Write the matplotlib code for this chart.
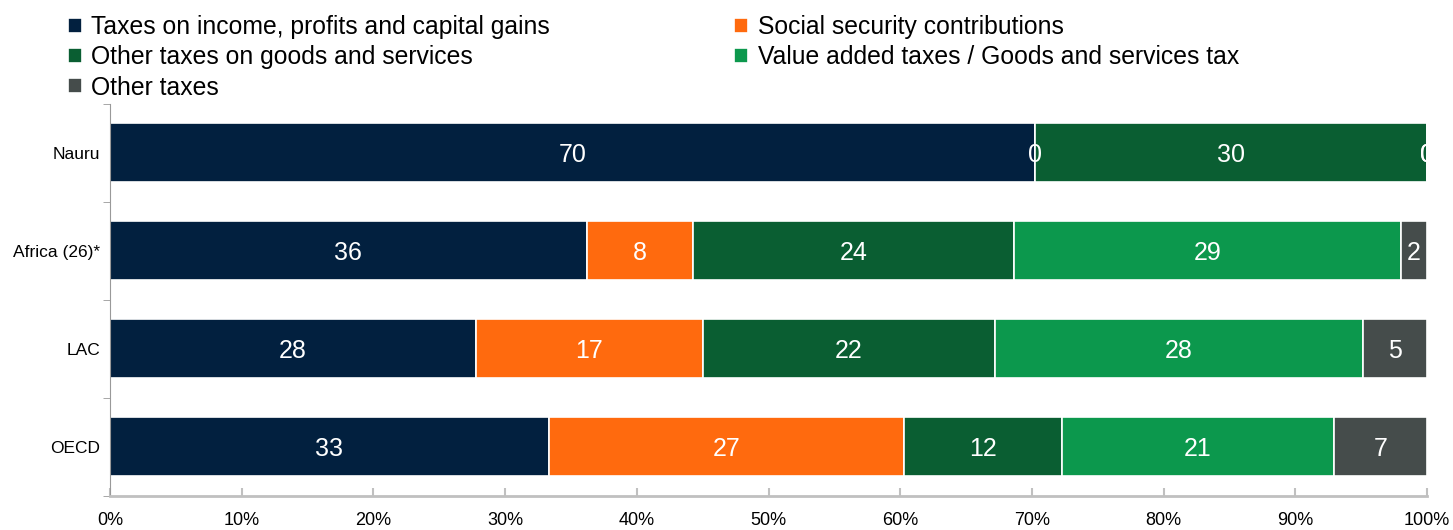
import matplotlib
matplotlib.use('Agg')
from matplotlib import pyplot as plt
import numpy as np

plt.rcParams['font.family'] = ['Liberation Sans Narrow', 'Liberation Sans', 'DejaVu Sans']

regions = ['Nauru', 'Africa (26)*', 'LAC', 'OECD']
series = ['Taxes on income, profits and capital gains',
          'Social security contributions',
          'Other taxes on goods and services',
          'Value added taxes / Goods and services tax',
          'Other taxes']
income = [70.2, 36.2, 27.8, 33.3]
social = [0.0, 8.1, 17.2, 27.0]
other_goods = [29.8, 24.3, 22.2, 12.0]
vat = [0.0, 29.4, 27.9, 20.6]
other = [0.0, 2.0, 4.9, 7.1]
colors = ['#02203F', '#FF6A0E', '#0A5E32', '#0C984D', '#454C4B']

values = [income, social, other_goods, vat, other]

fig = plt.figure(figsize=(14.53, 5.30), dpi=100)
ax = fig.add_axes([0.0757, 0.065, 0.9065, 0.7395])

y = np.arange(len(regions))
left = np.zeros(len(regions))
handles = []
for vals, name, col in zip(values, series, colors):
    vals = np.array(vals)
    bars = ax.barh(y, vals, left=left, height=0.61, color=col,
                   edgecolor='white', linewidth=1.2, label=name)
    handles.append(bars)
    for yi, v, l in zip(y, vals, left):
        ax.text(l + v / 2, yi, '%d' % round(v), ha='center', va='center_baseline',
                color='white', fontsize=18, clip_on=True)
    left = left + vals

ax.set_xlim(0, 100)
ax.set_ylim(len(regions) - 0.5, -0.5)
ax.set_yticks(y)
ax.set_yticklabels(regions, fontsize=12.5)
ax.set_yticks(np.arange(len(regions) + 1) - 0.5, minor=True)
ax.tick_params(axis='y', which='major', length=0, pad=7)
ax.tick_params(axis='y', which='minor', length=5, color='#999999', direction='out')
ax.set_xticks(np.arange(0, 101, 10))
ax.set_xticklabels(['%d%%' % t for t in range(0, 101, 10)], fontsize=13)
ax.tick_params(axis='x', length=6, width=1.5, color='#c0c0c0', direction='in', pad=12)
for s in ['top', 'right']:
    ax.spines[s].set_visible(False)
ax.spines['left'].set_color('#999999')
ax.spines['bottom'].set_color('#c0c0c0')
ax.spines['bottom'].set_linewidth(2)

order = [0, 2, 4, 1, 3]
fig.legend([handles[i] for i in order], [series[i] for i in order],
           loc='upper left', bbox_to_anchor=(0.04, 0.99), ncol=2,
           frameon=False, fontsize=17.8, handlelength=0.55, handleheight=0.55,
           handletextpad=0.4, columnspacing=7.45, labelspacing=0.25,
           borderaxespad=0)

fig.savefig('out.png', dpi=100)
